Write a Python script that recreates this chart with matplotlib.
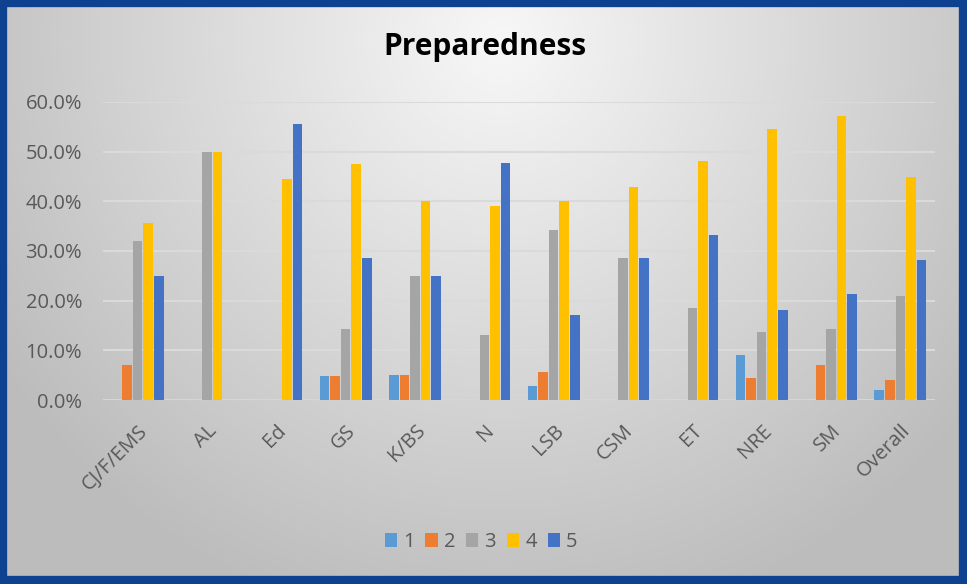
import matplotlib.pyplot as plt
import numpy as np
from matplotlib.patches import Rectangle

categories = ["CJ/F/EMS", "AL", "Ed", "GS", "K/BS", "N", "LSB", "CSM", "ET", "NRE", "SM", "Overall"]
series_names = ["1", "2", "3", "4", "5"]

s1 = [0.0, 0.0, 0.0, 4.8, 5.0, 0.0, 2.9, 0.0, 0.0, 9.1, 0.0, 2.0]
s2 = [7.1, 0.0, 0.0, 4.8, 5.0, 0.0, 5.7, 0.0, 0.0, 4.5, 7.1, 4.0]
s3 = [32.1, 50.0, 0.0, 14.3, 25.0, 13.0, 34.3, 28.6, 18.5, 13.6, 14.3, 21.0]
s4 = [35.7, 50.0, 44.4, 47.6, 40.0, 39.1, 40.0, 42.9, 48.1, 54.5, 57.1, 44.8]
s5 = [25.0, 0.0, 55.6, 28.6, 25.0, 47.8, 17.1, 28.6, 33.3, 18.2, 21.4, 28.2]

colors = ["#5B9BD5", "#ED7D31", "#A5A5A5", "#FFC000", "#4472C4"]

plt.rcParams['font.family'] = ['Open Sans', 'DejaVu Sans']

W, H = 967, 584
fig = plt.figure(figsize=(W / 100, H / 100), dpi=100)

# background gradient and border
bg = fig.add_axes([0, 0, 1, 1])
yy, xx = np.mgrid[0:H, 0:W]
d = np.sqrt(((xx - 500) / 620) ** 2 + ((yy - 40) / 620) ** 2)
shade = np.clip(0.97 - 0.24 * d, 0.74, 0.97)
bg.imshow(np.dstack([shade, shade, shade]), extent=[0, W, H, 0], aspect='auto')
bg.add_patch(Rectangle((3, 3), W - 7, H - 7, fill=False, ec="#0E4290", lw=6))
bg.set_xlim(0, W)
bg.set_ylim(H, 0)
bg.axis('off')

ax = fig.add_axes([103 / W, (H - 400) / H, (935 - 103) / W, (400 - 102) / H])
ax.patch.set_alpha(0)

x = np.arange(len(categories))
step = 0.152
width = 0.138
for i, (vals, name) in enumerate(zip([s1, s2, s3, s4, s5], series_names)):
    ax.bar(x + (i - 2) * step, np.array(vals) / 100, width, color=colors[i], label=name, zorder=3)

ax.set_xlim(-0.5, len(categories) - 0.5)
ax.set_ylim(0, 0.6)
ax.set_yticks(np.arange(0, 0.61, 0.1))
ax.set_yticklabels([f"{v * 100:.1f}%" for v in np.arange(0, 0.61, 0.1)])
ax.yaxis.grid(True, color="#DADADA", lw=1.5, zorder=0)
ax.set_axisbelow(True)
for s in ax.spines.values():
    s.set_visible(False)
ax.axhline(0, color="#D6D6D6", lw=1.5, zorder=2)

ax.set_xticks(x)
ax.set_xticklabels(categories, rotation=45, ha='right', rotation_mode='anchor')
ax.tick_params(axis='y', length=0, pad=15, labelsize=14.5, labelcolor="#595959")
ax.tick_params(axis='x', length=0, pad=15, labelsize=14.5, labelcolor="#595959")

fig.text(485 / W, 1 - 47 / H, "Preparedness", ha='center', va='center',
         fontsize=21.5, fontweight='bold', color="black")

leg = ax.legend(loc='center', bbox_to_anchor=(481 / W, 1 - 542 / H), bbox_transform=fig.transFigure,
                ncol=5, frameon=False, fontsize=14.5, handlelength=0.6, handleheight=0.75,
                handletextpad=0.3, columnspacing=0.55)
for t in leg.get_texts():
    t.set_color("#595959")

fig.savefig("out.png", dpi=100)
